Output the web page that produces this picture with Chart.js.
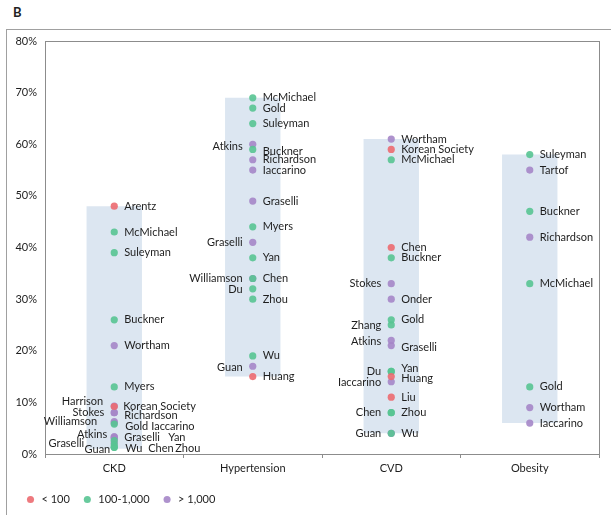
<!DOCTYPE html>
<html>
<head>
<meta charset="utf-8">
<script src="https://cdn.jsdelivr.net/npm/chart.js@4.4.1/dist/chart.umd.min.js"></script>
<style>
  html, body { margin: 0; padding: 0; background: #fff; }
  body { width: 611px; height: 515px; position: relative; overflow: hidden; font-family: Lato, sans-serif; }
  #panel { position: absolute; left: 13px; top: 4px; font: bold 13px Lato, sans-serif; color: #222; }
  #frame { position: absolute; left: 6px; top: 29px; width: 640px; height: 520px; border: 1px solid #a0a0a0; }
  #wrap { position: absolute; left: 0; top: 0; width: 611px; height: 515px; }
</style>
</head>
<body>
<div id="panel">B</div>
<div id="frame"></div>
<div id="wrap"><canvas id="chart"></canvas></div>
<script>
// kategori dan rentang (batang mengambang)
const categories = ['CKD', 'Hypertension', 'CVD', 'Obesity'];
const rangeLow = [1, 15, 4, 6];
const rangeHigh = [48, 69, 61, 58];

// titik studi: [kategori, nama, persen]
const studiesUnder100 = [
    ['CKD', 'Arentz', 48], ['CKD', 'Korean Society', 9.2],
    ['Hypertension', 'Huang', 15],
    ['CVD', 'Korean Society', 59], ['CVD', 'Chen', 40], ['CVD', 'Huang', 15], ['CVD', 'Liu', 11]
];
const studies100to1000 = [
    ['CKD', 'McMichael', 43], ['CKD', 'Suleyman', 39], ['CKD', 'Buckner', 26], ['CKD', 'Myers', 13],
    ['CKD', 'Gold', 5.8], ['CKD', 'Yan', 2.6], ['CKD', 'Wu', 1.8], ['CKD', 'Chen', 1.3], ['CKD', 'Zhou', 1.3],
    ['Hypertension', 'McMichael', 69], ['Hypertension', 'Gold', 67], ['Hypertension', 'Suleyman', 64],
    ['Hypertension', 'Buckner', 59], ['Hypertension', 'Myers', 44], ['Hypertension', 'Yan', 38],
    ['Hypertension', 'Chen', 34], ['Hypertension', 'Du', 32], ['Hypertension', 'Zhou', 30], ['Hypertension', 'Wu', 19],
    ['CVD', 'McMichael', 57], ['CVD', 'Buckner', 38], ['CVD', 'Gold', 26], ['CVD', 'Zhang', 25],
    ['CVD', 'Yan', 16], ['CVD', 'Du', 16], ['CVD', 'Chen', 8], ['CVD', 'Zhou', 8], ['CVD', 'Wu', 4],
    ['Obesity', 'Suleyman', 58], ['Obesity', 'Buckner', 47], ['Obesity', 'McMichael', 33], ['Obesity', 'Gold', 13]
];
const studiesOver1000 = [
    ['CKD', 'Wortham', 21], ['CKD', 'Harrison', 9.3], ['CKD', 'Stokes', 8], ['CKD', 'Richardson', 8],
    ['CKD', 'Williamson', 6.3], ['CKD', 'Iaccarino', 6], ['CKD', 'Atkins', 3.3], ['CKD', 'Graselli', 3.3],
    ['CKD', 'Graselli', 3], ['CKD', 'Guan', 2.2],
    ['Hypertension', 'Atkins', 60], ['Hypertension', 'Richardson', 57], ['Hypertension', 'Iaccarino', 55],
    ['Hypertension', 'Graselli', 49], ['Hypertension', 'Graselli', 41], ['Hypertension', 'Williamson', 34],
    ['Hypertension', 'Guan', 17],
    ['CVD', 'Wortham', 61], ['CVD', 'Stokes', 33], ['CVD', 'Onder', 30], ['CVD', 'Atkins', 22],
    ['CVD', 'Graselli', 21], ['CVD', 'Iaccarino', 14], ['CVD', 'Guan', 4],
    ['Obesity', 'Tartof', 55], ['Obesity', 'Richardson', 42], ['Obesity', 'Wortham', 9], ['Obesity', 'Iaccarino', 6]
];

// posisi label: [sisi, dx, dy] (default kanan)
const labelNudge = {
    'CKD|Harrison': ['L', -11, -5], 'CKD|Stokes': ['L', -10, 0], 'CKD|Williamson': ['L', -17, 0],
    'CKD|Atkins': ['L', -7, -3], 'CKD|Graselli|3': ['L', -30, 4.5], 'CKD|Guan': ['L', -4, 7],
    'CKD|Korean Society': ['R', 9, 0], 'CKD|Richardson': ['R', 10, 3], 'CKD|Gold': ['R', 11, 2],
    'CKD|Iaccarino': ['R', 37, 3], 'CKD|Yan': ['R', 54, -3.5], 'CKD|Wu': ['R', 11, 4],
    'CKD|Chen': ['R', 34, 1.5], 'CKD|Zhou': ['R', 61, 1.5],
    'Hypertension|Atkins': ['L', -10, 2], 'Hypertension|Buckner': ['R', 10, 2],
    'Hypertension|Graselli|41': ['L', -10, 0], 'Hypertension|Williamson': ['L', -10, 0],
    'Hypertension|Du': ['L', -10, 1], 'Hypertension|Guan': ['L', -10, 1],
    'CVD|Stokes': ['L', -10, 0], 'CVD|Zhang': ['L', -10, 1], 'CVD|Atkins': ['L', -10, 1],
    'CVD|Du': ['L', -10, 0], 'CVD|Iaccarino': ['L', -10, 1], 'CVD|Chen|8': ['L', -10, 0],
    'CVD|Guan': ['L', -10, 0], 'CVD|Yan': ['R', 10, -3], 'CVD|Huang': ['R', 10, 2], 'CVD|Graselli': ['R', 10, 2]
};

const FONT = 'Lato';
const toPoints = rows => rows.map(r => ({ x: r[0], y: r[2], name: r[1] }));

function pointSet(label, rows, color) {
    return {
        type: 'line',
        label: label,
        data: toPoints(rows),
        showLine: false,
        pointRadius: 3.6,
        pointHoverRadius: 3.6,
        pointBorderWidth: 0,
        pointBackgroundColor: color,
        backgroundColor: color,
        borderColor: color,
        order: 0
    };
}

// kotak area plot (garis atas & kanan)
const plotBox = {
    id: 'plotBox',
    beforeDatasetsDraw(chart) {
        const { ctx, chartArea: a } = chart;
        ctx.save();
        ctx.strokeStyle = '#8c8c8c';
        ctx.lineWidth = 1;
        ctx.strokeRect(Math.round(a.left) + 0.5, Math.round(a.top) + 0.5, Math.round(a.right - a.left), Math.round(a.bottom - a.top));
        ctx.restore();
    }
};

// label nama studi di samping titik
const pointLabels = {
    id: 'pointLabels',
    afterDatasetsDraw(chart) {
        const ctx = chart.ctx;
        ctx.save();
        ctx.font = '11px ' + FONT;
        ctx.fillStyle = '#1e1e1e';
        ctx.textBaseline = 'middle';
        chart.data.datasets.forEach((ds, i) => {
            if (ds.type !== 'line') return;
            chart.getDatasetMeta(i).data.forEach((pt, j) => {
                const d = ds.data[j];
                const key = d.x + '|' + d.name;
                const lay = labelNudge[key + '|' + d.y] || labelNudge[key] || ['R', 10, 0];
                ctx.textAlign = lay[0] === 'L' ? 'right' : 'left';
                ctx.fillText(d.name, pt.x + lay[1], pt.y + lay[2]);
            });
        });
        ctx.restore();
    }
};

const config = {
    data: {
        labels: categories,
        datasets: [
            {
                type: 'bar',
                label: '',
                data: categories.map((c, i) => [rangeLow[i], rangeHigh[i]]),
                backgroundColor: 'rgb(220, 230, 241)',
                barPercentage: 0.4,
                categoryPercentage: 1,
                order: 10
            },
            pointSet('< 100', studiesUnder100, 'rgba(236, 106, 112, 0.9)'),
            pointSet('100-1,000', studies100to1000, 'rgba(88, 196, 146, 0.9)'),
            pointSet('> 1,000', studiesOver1000, 'rgba(165, 134, 200, 0.9)')
        ]
    },
    options: {
        responsive: true,
        maintainAspectRatio: false,
        animation: false,
        layout: { padding: { top: 41, right: 12, left: 13, bottom: 0 } },
        plugins: {
            tooltip: { enabled: false },
            legend: {
                position: 'bottom',
                align: 'start',
                labels: {
                    filter: item => item.text !== '',
                    usePointStyle: true,
                    pointStyle: 'circle',
                    boxHeight: 5,
                    padding: 12,
                    color: '#1e1e1e',
                    font: { family: FONT, size: 11 }
                }
            }
        },
        scales: {
            x: {
                type: 'category',
                offset: true,
                grid: { drawOnChartArea: false, drawTicks: true, tickLength: 4, color: '#8c8c8c', offset: true },
                border: { color: '#8c8c8c' },
                ticks: { color: '#1e1e1e', font: { family: FONT, size: 11 }, padding: 4 },
                afterFit: s => { s.height = 28; }
            },
            y: {
                min: 0,
                max: 80,
                grid: { drawOnChartArea: false, drawTicks: false },
                border: { color: '#8c8c8c' },
                ticks: { stepSize: 10, callback: v => v + '%', padding: 8, color: '#1e1e1e', font: { family: FONT, size: 11 } },
                afterFit: s => { s.width = 32; }
            }
        }
    },
    plugins: [plotBox, pointLabels]
};

const ctx = document.getElementById('chart').getContext('2d');
new Chart(ctx, config);
</script>
</body>
</html>
